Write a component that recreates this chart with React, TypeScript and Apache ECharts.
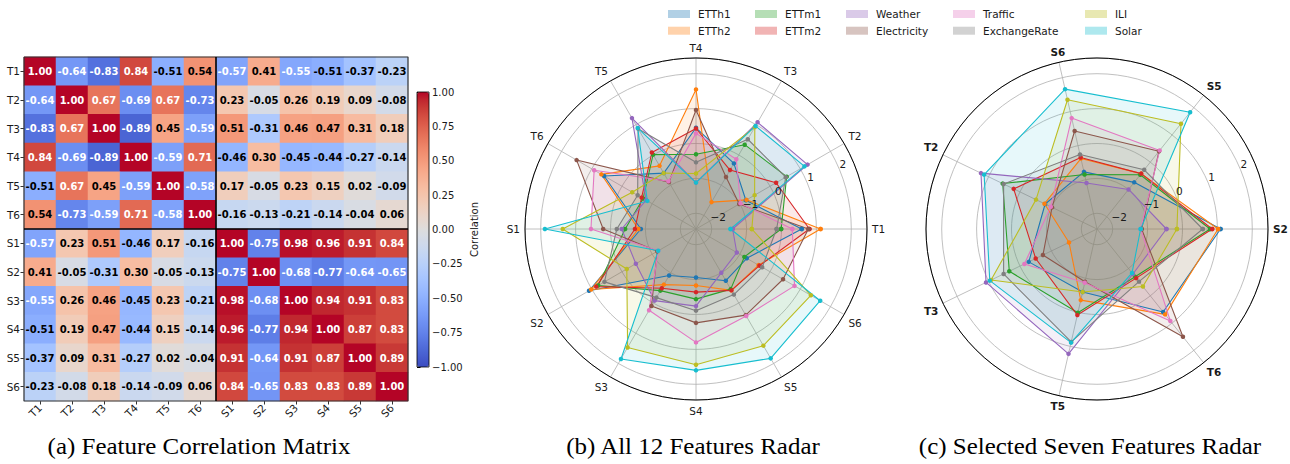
import React, { useEffect, useRef } from 'react';
import * as echarts from 'echarts';

const FEATURES = ['T1', 'T2', 'T3', 'T4', 'T5', 'T6', 'S1', 'S2', 'S3', 'S4', 'S5', 'S6'];
const N_TEMPORAL = 6;

const CORR_T1 = [1.0, -0.64, -0.83, 0.84, -0.51, 0.54, -0.57, 0.41, -0.55, -0.51, -0.37, -0.23];
const CORR_T2 = [-0.64, 1.0, 0.67, -0.69, 0.67, -0.73, 0.23, -0.05, 0.26, 0.19, 0.09, -0.08];
const CORR_T3 = [-0.83, 0.67, 1.0, -0.89, 0.45, -0.59, 0.51, -0.31, 0.46, 0.47, 0.31, 0.18];
const CORR_T4 = [0.84, -0.69, -0.89, 1.0, -0.59, 0.71, -0.46, 0.3, -0.45, -0.44, -0.27, -0.14];
const CORR_T5 = [-0.51, 0.67, 0.45, -0.59, 1.0, -0.58, 0.17, -0.05, 0.23, 0.15, 0.02, -0.09];
const CORR_T6 = [0.54, -0.73, -0.59, 0.71, -0.58, 1.0, -0.16, -0.13, -0.21, -0.14, -0.04, 0.06];
const CORR_S1 = [-0.57, 0.23, 0.51, -0.46, 0.17, -0.16, 1.0, -0.75, 0.98, 0.96, 0.91, 0.84];
const CORR_S2 = [0.41, -0.05, -0.31, 0.3, -0.05, -0.13, -0.75, 1.0, -0.68, -0.77, -0.64, -0.65];
const CORR_S3 = [-0.55, 0.26, 0.46, -0.45, 0.23, -0.21, 0.98, -0.68, 1.0, 0.94, 0.91, 0.83];
const CORR_S4 = [-0.51, 0.19, 0.47, -0.44, 0.15, -0.14, 0.96, -0.77, 0.94, 1.0, 0.87, 0.83];
const CORR_S5 = [-0.37, 0.09, 0.31, -0.27, 0.02, -0.04, 0.91, -0.64, 0.91, 0.87, 1.0, 0.89];
const CORR_S6 = [-0.23, -0.08, 0.18, -0.14, -0.09, 0.06, 0.84, -0.65, 0.83, 0.83, 0.89, 1.0];
const CORR = [CORR_T1, CORR_T2, CORR_T3, CORR_T4, CORR_T5, CORR_T6, CORR_S1, CORR_S2, CORR_S3, CORR_S4, CORR_S5, CORR_S6];

// radar values, in FEATURES order (T1..T6, S1..S6)
const ETTh1 = [0.58, -0.8, -0.28, 0.45, -0.6, 0.59, -0.87, 1.09, -0.91, -1.06, -0.74, -0.77];
const ETTh2 = [1.12, -0.78, -1.56, 1.55, -0.36, 0.68, -0.8, 1.02, -0.61, -0.83, -0.42, -0.38];
const ETTm1 = [-0.01, 0.55, 0.34, -0.31, 0.01, -0.7, -0.42, 0.79, -0.41, -0.44, -0.46, -0.85];
const ETTm2 = [0.8, 0.2, -0.5, 0.43, 0.08, -0.65, -0.7, 0.85, -0.49, -0.64, -0.42, -0.35];
const Weather = [-1.4, 1.24, 1.08, -1.12, 1.22, -0.8, -0.32, -0.46, -0.08, -0.24, -1.0, -1.1];
const Electricity = [0.77, -1.02, -0.73, 0.96, -0.9, 1.5, 0.21, -1.17, 0.1, 0.24, 0.4, 0.43];
const Traffic = [0.31, -0.98, -0.14, 0.29, -0.87, 0.92, 0.56, -1.2, 0.24, 0.8, 0.43, 0.81];
const ExchangeRate = [-0.14, 0.52, 0.52, -0.54, 0.87, -0.52, -0.18, 0.58, -0.18, -0.11, -0.28, -0.26];
const ILI = [-0.85, -0.51, 0.92, -0.86, -0.6, -0.34, 1.37, -0.16, 1.47, 1.44, 1.41, 1.35];
const Solar = [-1.46, 1.14, 0.96, -1.12, 0.89, -0.84, 1.88, -1.2, 1.85, 1.6, 1.83, 1.66];

const DATASET_NAMES = ['ETTh1', 'ETTh2', 'ETTm1', 'ETTm2', 'Weather', 'Electricity', 'Traffic', 'ExchangeRate', 'ILI', 'Solar'];
const DATASET_VALUES = [ETTh1, ETTh2, ETTm1, ETTm2, Weather, Electricity, Traffic, ExchangeRate, ILI, Solar];
const COLORS = ['#1f77b4', '#ff7f0e', '#2ca02c', '#d62728', '#9467bd', '#8c564b', '#e377c2', '#7f7f7f', '#bcbd22', '#17becf'];
const LEGEND_COLUMNS = [['ETTh1', 'ETTh2'], ['ETTm1', 'ETTm2'], ['Weather', 'Electricity'], ['Traffic', 'ExchangeRate'], ['ILI', 'Solar']];

const SELECTED = ['S2', 'S5', 'S6', 'T2', 'T3', 'T5', 'T6'];
const R_MIN = -2.45;
const R_MAX = 2.45;

const CAPTIONS = ['(a) Feature Correlation Matrix', '(b) All 12 Features Radar', '(c) Selected Seven Features Radar'];

const COOLWARM = ['#3b4cc0', '#445acc', '#4d68d7', '#5775e1', '#6282ea', '#6c8ef1', '#779af7', '#82a5fb', '#8db0fe', '#98b9ff', '#a3c2ff', '#aec9fd', '#b8d0f9', '#c2d5f4', '#ccd9ee', '#d5dbe6', '#dddddd', '#e5d8d1', '#ecd3c5', '#f1ccb8', '#f5c4ac', '#f7bba0', '#f7b194', '#f7a687', '#f49a7b', '#f18d6f', '#ec7f63', '#e57058', '#de604d', '#d55042', '#cb3e38', '#c0282f', '#b40426'];

const FONT = 'DejaVu Sans';
const TXT = '#1a1a1a';

function rgba(hex: string, a: number) {
  const n = parseInt(hex.slice(1), 16);
  return `rgba(${(n >> 16) & 255},${(n >> 8) & 255},${n & 255},${a})`;
}
function minusFmt(s: string) {
  return s.replace('-', '\u2212');
}

export default function App() {
  const ref = useRef<HTMLDivElement>(null);
  useEffect(() => {
    if (!ref.current) return;
    const chart = echarts.init(ref.current, undefined, { renderer: 'svg' });

    const heatData: any[] = [];
    CORR.forEach((row, r) =>
      row.forEach((v, c) => {
        heatData.push({
          value: [c, r, v],
          label: { color: Math.abs(v) >= 0.55 ? '#ffffff' : '#000000' },
        });
      })
    );
    const n = FEATURES.length;

    const stepB = 360 / n;
    const stepC = 360 / SELECTED.length;
    const selIdx = SELECTED.map((f) => FEATURES.indexOf(f));

    const series: any[] = [
      {
        type: 'heatmap',
        xAxisIndex: 0,
        yAxisIndex: 0,
        data: heatData,
        label: {
          show: true,
          fontSize: 10,
          fontWeight: 'bold',
          fontFamily: FONT,
          formatter: (p: any) => p.value[2].toFixed(2),
        },
        itemStyle: { borderWidth: 0 },
        emphasis: { disabled: true },
      },
      {
        type: 'line',
        xAxisIndex: 1,
        yAxisIndex: 1,
        data: [[0, 0], [n, 0], [n, n], [0, n], [0, 0]],
        symbol: 'none',
        clip: false,
        lineStyle: { color: '#333', width: 1.2 },
        z: 5,
      },
      {
        type: 'line',
        xAxisIndex: 1,
        yAxisIndex: 1,
        data: [[N_TEMPORAL, 0], [N_TEMPORAL, n]],
        symbol: 'none',
        clip: false,
        lineStyle: { color: '#000', width: 1.6 },
        z: 5,
      },
      {
        type: 'line',
        xAxisIndex: 1,
        yAxisIndex: 1,
        data: [[0, N_TEMPORAL], [n, N_TEMPORAL]],
        symbol: 'none',
        clip: false,
        lineStyle: { color: '#000', width: 1.6 },
        z: 5,
      },
      {
        type: 'scatter',
        xAxisIndex: 2,
        yAxisIndex: 2,
        data: [],
      },
    ];

    DATASET_NAMES.forEach((name, i) => {
      const vals = DATASET_VALUES[i];
      const bData = vals.map((v, k) => [v, k * stepB]);
      bData.push([vals[0], 360]);
      const cData = selIdx.map((fi, k) => [vals[fi], k * stepC]);
      cData.push([vals[selIdx[0]], 360]);
      [0, 2].forEach((pi) => {
        series.push({
          type: 'line',
          name,
          coordinateSystem: 'polar',
          polarIndex: pi,
          data: pi === 0 ? bData : cData,
          symbol: 'circle',
          symbolSize: 4.5,
          showSymbol: true,
          lineStyle: { color: COLORS[i], width: 1.1 },
          itemStyle: { color: COLORS[i] },
          areaStyle: { color: COLORS[i], opacity: 0.1, origin: 'start' },
          emphasis: { disabled: true },
          z: 3,
        });
      });
    });

    const angleLabel = (names: string[], step: number, bold: boolean) => ({
      formatter: (v: number) => {
        const k = Math.round(v / step);
        return k < names.length ? names[k] : '';
      },
      fontSize: 10.5,
      fontWeight: bold ? 'bold' : 'normal',
      color: TXT,
      margin: 5,
      fontFamily: FONT,
    });
    const radLabel = {
      formatter: (v: number) => (Math.abs(v - Math.round(v)) < 1e-6 ? minusFmt(String(Math.round(v))) : ''),
      fontSize: 10.5,
      color: TXT,
      margin: 0,
      align: 'left',
      verticalAlign: 'bottom',
      fontFamily: FONT,
    };

    const mainAngle = (pi: number, names: string[], step: number, bold: boolean) => ({
      polarIndex: pi,
      type: 'value',
      min: 0,
      max: 360,
      interval: step,
      startAngle: 0,
      clockwise: false,
      axisLine: { show: true, lineStyle: { color: '#000', width: 1 } },
      axisTick: { show: false },
      axisLabel: angleLabel(names, step, bold),
      splitLine: { show: true, lineStyle: { color: '#b0b0b0', width: 0.8 } },
    });
    const hiddenAngle = (pi: number) => ({
      polarIndex: pi,
      type: 'value',
      min: 0,
      max: 360,
      startAngle: 22.5,
      clockwise: false,
      axisLine: { show: false },
      axisTick: { show: false },
      axisLabel: { show: false },
      splitLine: { show: false },
    });
    const mainRadius = (pi: number) => ({
      polarIndex: pi,
      type: 'value',
      min: R_MIN,
      max: R_MAX,
      splitNumber: 5,
      axisLine: { show: false },
      axisTick: { show: false },
      axisLabel: { show: false },
      splitLine: { show: true, lineStyle: { color: '#b0b0b0', width: 0.8 } },
    });
    const labelRadius = (pi: number) => ({
      polarIndex: pi,
      type: 'value',
      min: R_MIN,
      max: R_MAX,
      splitNumber: 5,
      axisLine: { show: false },
      axisTick: { show: false },
      axisLabel: radLabel,
      splitLine: { show: false },
      z: 10,
    });

    const legends = LEGEND_COLUMNS.map((col, ci) => ({
      orient: 'vertical',
      left: [668, 755, 846, 953, 1085][ci],
      top: 7.5,
      padding: 0,
      itemGap: 3.7,
      itemWidth: 22,
      itemHeight: 8,
      icon: 'rect',
      selectedMode: false,
      textStyle: { fontSize: 10.5, color: TXT, fontFamily: FONT, lineHeight: 13, padding: [0, 0, 0, 3] },
      itemStyle: { borderWidth: 0 },
      data: col.map((nm) => ({
        name: nm,
        itemStyle: { color: rgba(COLORS[DATASET_NAMES.indexOf(nm)], 0.35), borderWidth: 0 },
      })),
    }));

    const catAxisLabel = { fontSize: 10.5, color: TXT, fontFamily: FONT };

    const captionX = [199, 693, 1090];

    chart.setOption({
      animation: false,
      textStyle: { fontFamily: FONT },
      grid: [
        { left: 24, top: 57, width: 384, height: 344, show: false },
        { left: 24, top: 57, width: 384, height: 344, show: false },
        { left: 417, top: 92, width: 12, height: 275, show: true, borderColor: '#000', borderWidth: 0.8, z: 6 },
      ],
      xAxis: [
        {
          gridIndex: 0,
          type: 'category',
          data: FEATURES,
          axisLine: { show: false },
          axisTick: { show: true, alignWithLabel: true, length: 3.5, lineStyle: { color: '#333' } },
          axisLabel: { ...catAxisLabel, rotate: 45, margin: 5 },
          splitLine: { show: false },
        },
        { gridIndex: 1, type: 'value', min: 0, max: n, show: false },
        { gridIndex: 2, type: 'value', min: 0, max: 1, show: false },
      ],
      yAxis: [
        {
          gridIndex: 0,
          type: 'category',
          data: FEATURES,
          inverse: true,
          axisLine: { show: false },
          axisTick: { show: true, alignWithLabel: true, length: 3.5, lineStyle: { color: '#333' } },
          axisLabel: { ...catAxisLabel, margin: 4 },
          splitLine: { show: false },
        },
        { gridIndex: 1, type: 'value', min: 0, max: n, inverse: true, show: false },
        {
          gridIndex: 2,
          type: 'value',
          min: -1,
          max: 1,
          interval: 0.25,
          position: 'right',
          axisLine: { show: false },
          axisTick: { show: true, length: 3.5, lineStyle: { color: '#000' } },
          axisLabel: {
            fontSize: 10,
            color: TXT,
            margin: 3,
            fontFamily: FONT,
            formatter: (v: number) => minusFmt(v.toFixed(2)),
          },
          splitLine: { show: false },
          name: 'Correlation',
          nameLocation: 'middle',
          nameRotate: 90,
          nameGap: 40,
          nameTextStyle: { fontSize: 10, color: TXT, fontFamily: FONT },
        },
      ],
      visualMap: {
        type: 'continuous',
        seriesIndex: 0,
        dimension: 2,
        min: -1,
        max: 1,
        calculable: false,
        hoverLink: false,
        orient: 'vertical',
        left: 417,
        top: 92,
        padding: 0,
        itemWidth: 12,
        itemHeight: 275,
        text: ['', ''],
        inRange: { color: COOLWARM },
      },
      polar: [
        { center: [696, 229], radius: 171 },
        { center: [696, 229], radius: 171 },
        { center: [1097, 229], radius: 171 },
        { center: [1097, 229], radius: 171 },
      ],
      angleAxis: [
        mainAngle(0, FEATURES, stepB, false),
        hiddenAngle(1),
        mainAngle(2, SELECTED, stepC, true),
        hiddenAngle(3),
      ],
      radiusAxis: [mainRadius(0), labelRadius(1), mainRadius(2), labelRadius(3)],
      legend: legends,
      graphic: CAPTIONS.map((t, i) => ({
        type: 'text',
        x: captionX[i],
        y: 446,
        scaleX: 1.11,
        style: { text: t, textAlign: 'center', textVerticalAlign: 'middle', font: '22.5px "Liberation Serif"', fill: '#000' },
      })),
      series,
    });
    return () => chart.dispose();
  }, []);
  return <div ref={ref} style={{ position: 'fixed', left: 0, top: 0, width: 1290, height: 464, background: '#fff' }} />;
}
